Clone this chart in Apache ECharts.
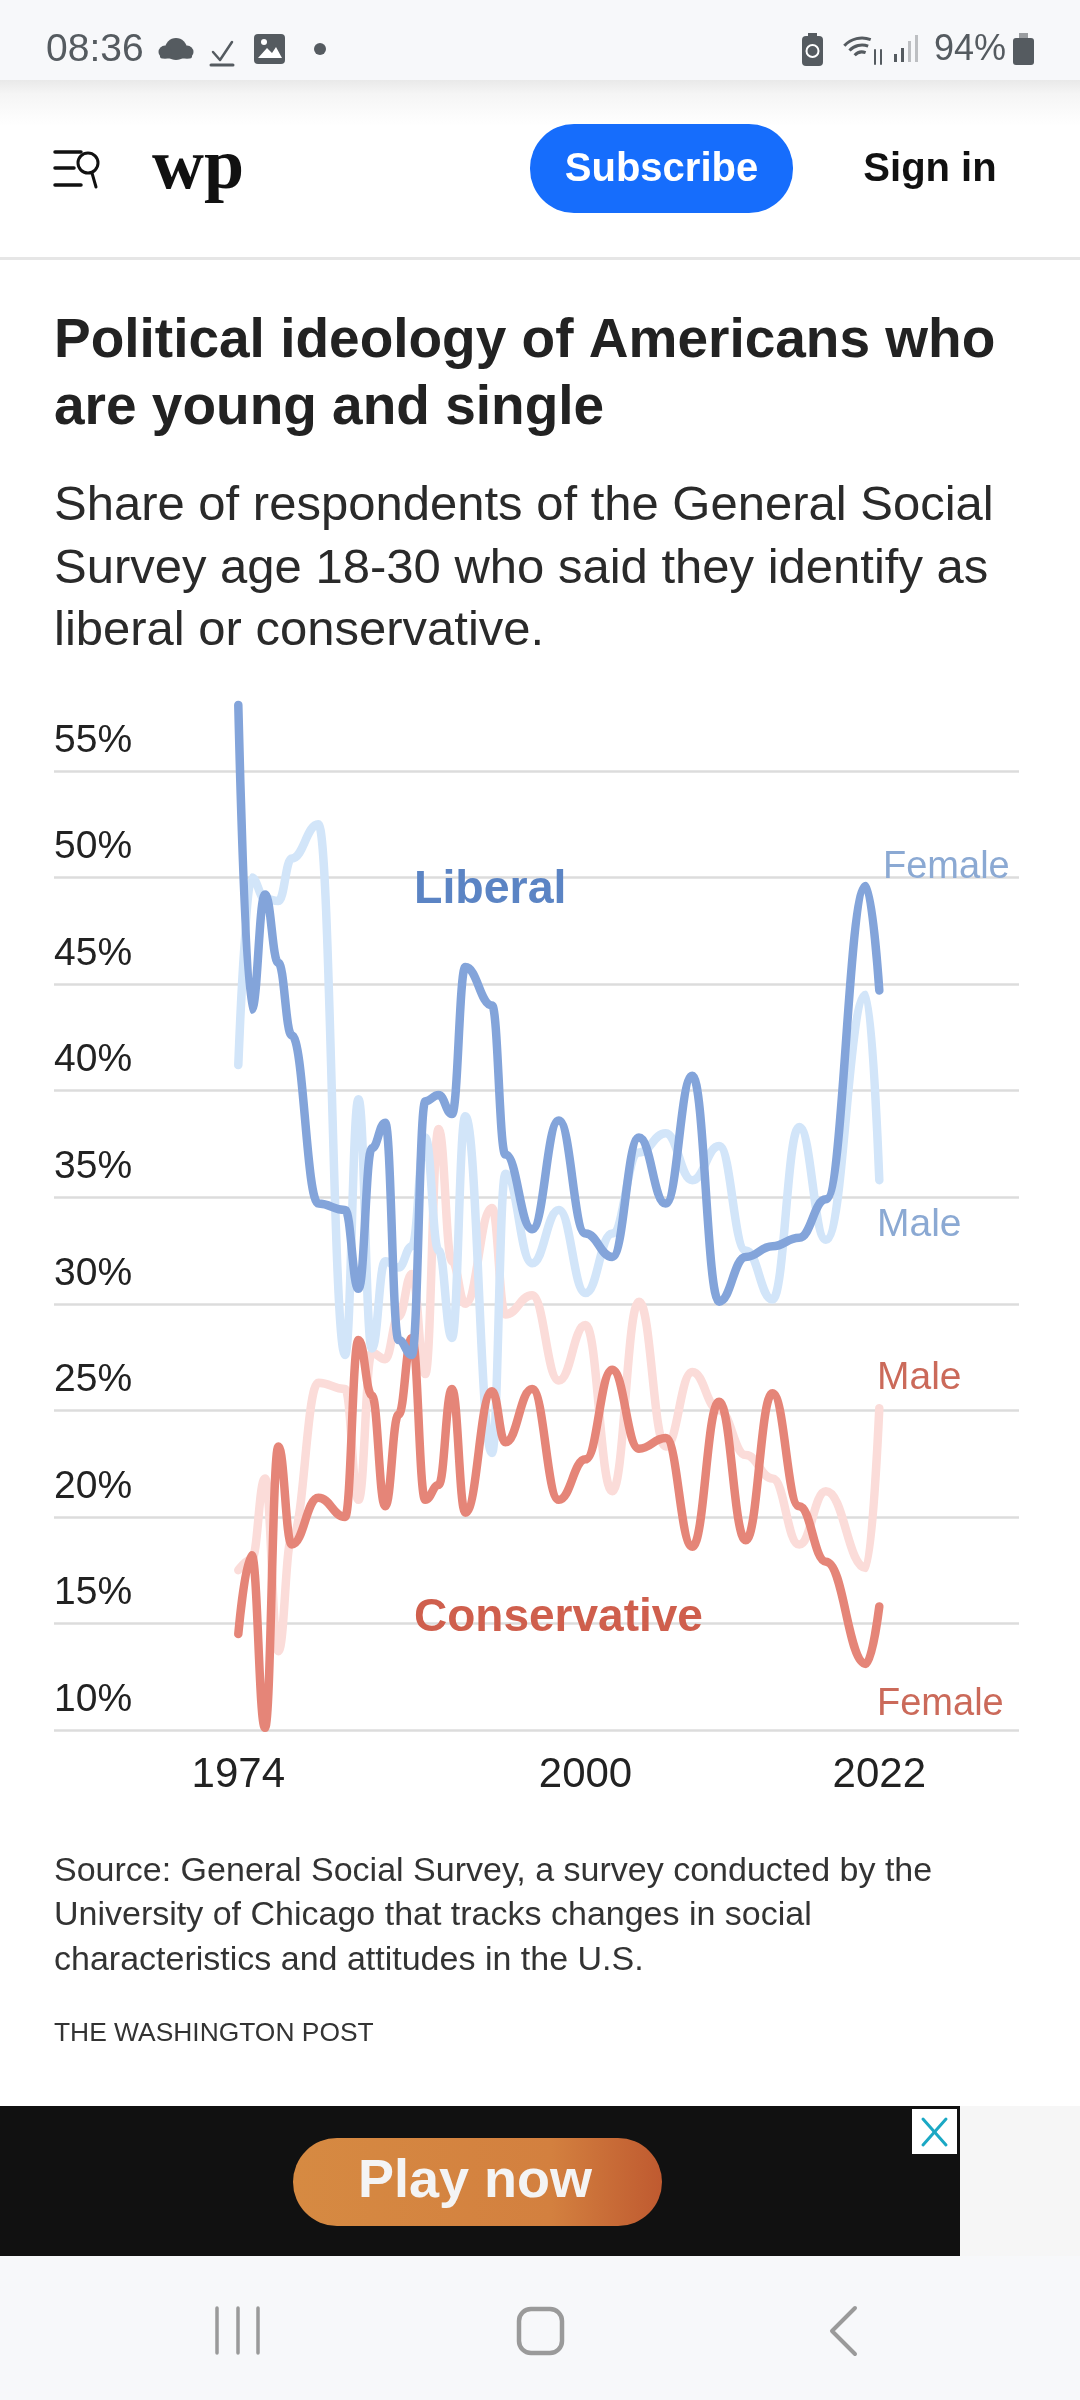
<!DOCTYPE html>
<html><head><meta charset="utf-8">
<style>html,body{margin:0;padding:0;background:#fff}#c{width:1080px;height:2400px}</style>
<script src="https://cdn.jsdelivr.net/npm/echarts@6/dist/echarts.min.js"></script>
</head><body><div id="c"></div>
<script>
const years=[1974,1975,1976,1977,1978,1980,1982,1983,1984,1985,1986,1987,1988,1989,1990,1991,1993,1994,1996,1998,2000,2002,2004,2006,2008,2010,2012,2014,2016,2018,2021,2022];
const liberalFemale=[58.1,43.8,49.2,46.0,42.6,34.7,34.4,30.7,37.3,38.5,28.3,27.6,39.5,39.8,38.9,45.8,44.0,37.0,33.5,38.6,33.3,32.2,37.8,34.7,40.7,30.1,32.2,32.7,33.1,34.9,49.6,44.7];
const liberalMale=[41.2,50.0,49.0,48.9,50.9,52.5,27.6,39.6,27.9,32.0,31.7,32.7,37.8,32.5,28.4,38.8,23.0,36.1,31.9,34.4,30.5,33.3,37.1,38.0,35.8,37.4,32.5,30.2,38.3,33.0,44.5,35.8];
const conservativeFemale=[14.5,18.2,10.1,23.3,18.7,20.9,20.0,28.3,25.7,20.5,24.8,28.4,20.8,21.5,26.0,20.2,25.9,23.5,26.0,20.8,22.7,26.9,23.2,23.7,18.6,25.4,18.9,25.8,20.5,17.9,13.1,15.8];
const conservativeMale=[17.5,18.0,21.8,13.7,19.0,26.3,26.0,20.8,27.7,27.4,29.4,31.4,26.7,38.2,32.0,30.0,34.5,29.5,30.4,26.4,29.0,21.2,30.1,23.3,26.8,25.0,22.9,21.8,18.7,21.2,17.6,25.1];
const xTicks=[1974,2000,2022];
const sans='"Liberation Sans",Arial,sans-serif';
function pairs(v){return years.map((y,i)=>[y,v[i]]);}
function line(name,v,color){return {name,type:'line',data:pairs(v),smooth:0.45,smoothMonotone:'x',showSymbol:false,clip:false,
  lineStyle:{color,width:8.5,cap:'round',join:'round'},silent:true};}
function T(text,x,y,size,fill,weight,align,family){return {type:'text',x,y:y+4,silent:true,z:5,style:{text,fontSize:size,fill,fontWeight:weight||'normal',fontFamily:family||sans,align:align||'left',verticalAlign:'middle'}};}
function R(x,y,w,h,fill,r){return {type:'rect',silent:true,shape:{x,y,width:w,height:h,r:r||0},style:{fill},z:1};}
function L(pts,stroke,w){return {type:'polyline',silent:true,shape:{points:pts},style:{stroke,lineWidth:w,fill:null,lineCap:'round',lineJoin:'round'},z:2};}
function C(cx,cy,r,fill){return {type:'circle',silent:true,z:2,shape:{cx,cy,r},style:{fill}};}
const grey='#555b60', nav='#9a9a9a';
const chrome=[
 R(0,0,1080,80,'#f7f8fa'),
 {type:'rect',silent:true,shape:{x:0,y:80,width:1080,height:46},z:1,style:{fill:{type:'linear',x:0,y:0,x2:0,y2:1,colorStops:[{offset:0,color:'#e9e9e9'},{offset:.3,color:'#f5f5f5'},{offset:1,color:'#ffffff'}]}}},
 T('08:36',46,46,39,grey),
 C(176,49,11,grey),C(165,52,6.5,grey),C(187,52,6.5,grey),R(160,50,32,8.5,grey,2),
 L([[213,52],[220,60],[232,42]],grey,2.5), L([[211,65],[233,65]],grey,3),
 R(254,34,31,30,grey,4),
 {type:'polygon',silent:true,z:2,shape:{points:[[258,58],[267,48],[272,53],[276,47],[282,58]]},style:{fill:'#fff'}},
 C(264,42,3,'#fff'),
 C(320,49,6,grey),
 R(802,36,21,30,grey,4),R(808,33,9,4,grey),
 {type:'circle',silent:true,z:2,shape:{cx:812.5,cy:51,r:6},style:{fill:'none',stroke:'#fff',lineWidth:2}},
 {type:'arc',silent:true,z:2,shape:{cx:862,cy:62,r:24,startAngle:-2.4,endAngle:-1.2},style:{stroke:grey,fill:null,lineWidth:3}},
 {type:'arc',silent:true,z:2,shape:{cx:862,cy:62,r:17,startAngle:-2.4,endAngle:-1.2},style:{stroke:grey,fill:null,lineWidth:3}},
 {type:'arc',silent:true,z:2,shape:{cx:862,cy:62,r:10,startAngle:-2.4,endAngle:-1.2},style:{stroke:grey,fill:null,lineWidth:3}},
 L([[875,50],[875,64]],grey,2),L([[881,50],[881,64]],grey,2),
 R(894,54,3,8,grey),R(901,48,3,14,grey),R(908,41,3,21,'#bdbfc2'),R(915,35,3,27,'#bdbfc2'),
 T('94%',934,46,36,grey),
 R(1013,38,21,27,grey,3),R(1019,33,9,5,'#9a9da0'),
 L([[55,152],[81,152]],'#111',3.5),L([[55,168],[74,168]],'#111',3.5),L([[55,185],[81,185]],'#111',3.5),
 {type:'circle',silent:true,z:2,shape:{cx:88,cy:163,r:10},style:{fill:'none',stroke:'#111',lineWidth:3}},
 L([[92,173],[96,187]],'#111',3),
 T('wp',198,165,72,'#111','bold','center','"Liberation Serif",serif'),
 R(530,124,263,89,'#166dfc',44),
 T('Subscribe',661.5,166,40,'#fff','bold','center'),
 T('Sign in',930,166,40,'#111','bold','center'),
 R(0,257,1080,3,'#e6e6e6'),
 T('Political ideology of Americans who',54,338,55,'#222','bold'),
 T('are young and single',54,405,55,'#222','bold'),
 T('Share of respondents of the General Social',54,502,49,'#2a2a2a'),
 T('Survey age 18-30 who said they identify as',54,565,49,'#2a2a2a'),
 T('liberal or conservative.',54,627,49,'#2a2a2a'),
 T('Liberal',414,886,46.5,'#5b84c4','bold'),
 T('Conservative',414,1614,46,'#cf5f4d','bold'),
 T('Female',883,864,38,'#8ba9d3'),
 T('Male',877,1221,39,'#8ba9d3'),
 T('Male',877,1374,39,'#cb6a5a'),
 T('Female',877,1701,38,'#cb6a5a'),
 T('Source: General Social Survey, a survey conducted by the',54,1868,34,'#333'),
 T('University of Chicago that tracks changes in social',54,1912,34,'#333'),
 T('characteristics and attitudes in the U.S.',54,1957,34,'#333'),
 T('THE WASHINGTON POST',54,2030,26.4,'#333'),
 R(0,2106,960,150,'#111111'),R(960,2106,120,150,'#f6f6f6'),
 R(912,2109,45,45,'#ffffff'),
 L([[923,2119],[946,2145]],'#1ba8c4',3),L([[946,2119],[923,2145]],'#1ba8c4',3),
 {type:'rect',silent:true,z:1,shape:{x:293,y:2138,width:369,height:88,r:44},style:{fill:{type:'linear',x:0,y:0,x2:1,y2:0,colorStops:[{offset:0,color:'#d68a42'},{offset:.7,color:'#d3803f'},{offset:1,color:'#bf5a30'}]}}},
 T('Play now',475,2178,54,'#f4f4f4','bold','center'),
 R(0,2256,1080,144,'#f7f8fa'),
 L([[217,2308],[217,2353]],nav,3.5),L([[238,2308],[238,2353]],nav,3.5),L([[258,2308],[258,2353]],nav,3.5),
 {type:'rect',silent:true,z:2,shape:{x:519,y:2309,width:43,height:44,r:12},style:{fill:'none',stroke:nav,lineWidth:4.5}},
 L([[855,2308],[832,2331],[855,2354]],nav,4),
];
const chart=echarts.init(document.getElementById('c'),null,{renderer:'canvas'});
chart.setOption({
 animation:false,backgroundColor:'#fff',
 grid:{left:54,right:61,top:771,height:959,containLabel:false},
 xAxis:{type:'value',min:1960.2,max:2032.46,splitLine:{show:false},axisLine:{show:false},axisTick:{show:false},
   axisLabel:{customValues:xTicks,margin:24,fontSize:42,color:'#222',fontFamily:sans,formatter:v=>String(v),hideOverlap:false}},
 yAxis:{type:'value',min:10,max:55,interval:5,axisLine:{show:false},axisTick:{show:false},
   splitLine:{show:true,lineStyle:{color:'#dcdcdc',width:2.5}},
   axisLabel:{inside:true,margin:0,fontSize:39,lineHeight:60,color:'#222',fontFamily:sans,align:'left',verticalAlign:'bottom',formatter:v=>v+'%'}},
 series:[line('Conservative male',conservativeMale,'#fbdcd9'),line('Liberal male',liberalMale,'#d2e5f9'),line('Conservative female',conservativeFemale,'#e58578'),line('Liberal female',liberalFemale,'#83a4da')],
 graphic:{elements:chrome}
});
</script></body></html>
